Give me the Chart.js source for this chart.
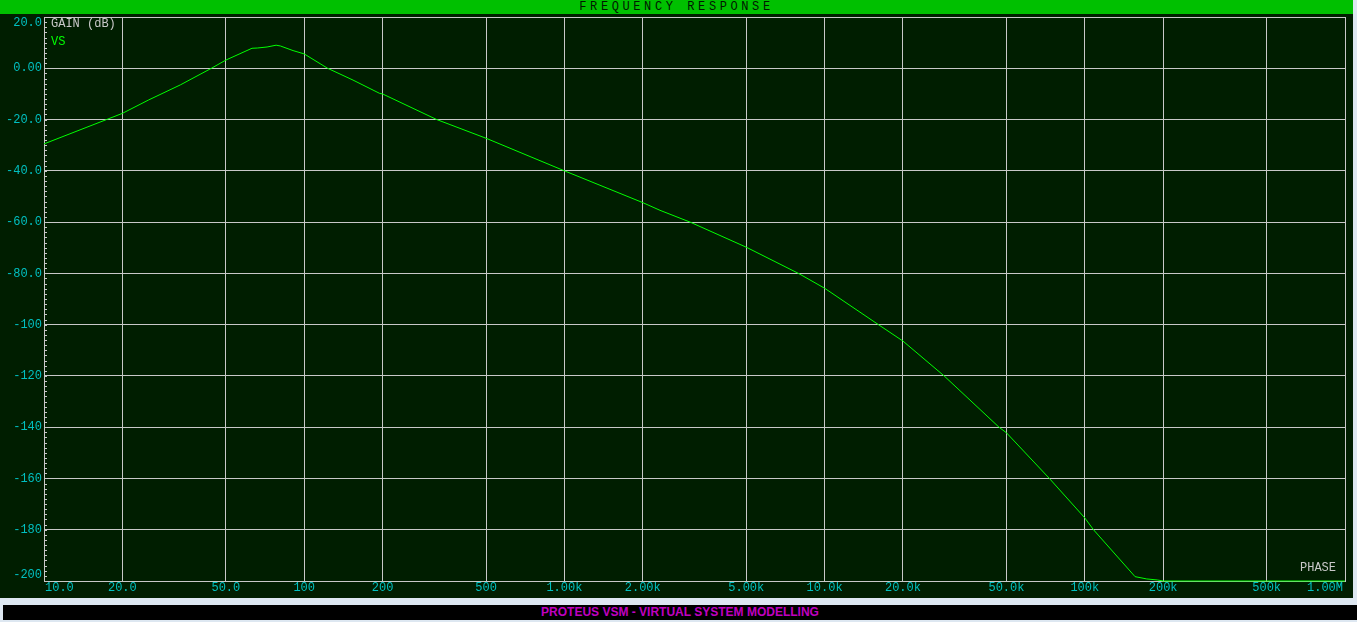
<!DOCTYPE html>
<html>
<head>
<meta charset="utf-8">
<title>Frequency Response</title>
<script src="https://cdn.jsdelivr.net/npm/chart.js@4"></script>
<style>
    html, body { margin: 0; padding: 0; }
    body { width: 1357px; height: 622px; background: #dde7f1; position: relative; overflow: hidden; }
    #panel { position: absolute; left: 0; top: 0; width: 1353px; height: 598px; background: #001e00; }
    #titlebar {
        position: absolute; left: 0; top: 0; width: 1353px; height: 14px;
        background: #00c000; color: #001800; text-align: center;
        font: 12px "Liberation Mono", monospace; line-height: 14px; letter-spacing: 3.6px;
    }
    #chart { position: absolute; left: 0; top: 14px; }
    #footer {
        position: absolute; left: 3px; top: 605px; width: 1354px; height: 15px;
        background: #000; color: #c000c0; text-align: center;
        font: bold 12px "Liberation Sans", Arial, sans-serif; line-height: 15px;
    }
</style>
</head>
<body>
<div id="panel"></div>
<div id="titlebar">FREQUENCY RESPONSE</div>
<canvas id="chart" width="1353" height="584"></canvas>
<div id="footer">PROTEUS VSM - VIRTUAL SYSTEM MODELLING</div>

<script>
// --- Data ---

// frequency (Hz) of each sample of the VS trace
const frequencies = [
    10, 17.4, 20, 25.2, 33.4, 44, 50, 63, 66, 72, 78, 81, 90.6, 100, 123, 154, 195, 200,
    323, 500, 1000, 2000, 2330, 3040, 5000, 7930, 10000, 16100, 20000, 28800, 46800,
    50000, 73100, 100000, 108000, 156000, 173000, 190000, 200000, 500000, 1000000
];

// gain (dB) of the VS trace at each frequency
const gainDb = [
    -29.5, -20, -17.6, -12.4, -6.5, 0, 3.2, 7.8, 7.9, 8.3, 9.0, 8.7, 6.9, 5.6, 0, -4.6, -9.8, -10.0,
    -20, -27.3, -40, -52.4, -55.4, -60, -69.8, -80, -85.8, -100, -106.4, -120, -140,
    -142.2, -160, -175.4, -180, -198.3, -199.2, -199.6, -200, -200, -200
];

// axis ticks
const xTickValues = [10, 20, 50, 100, 200, 500, 1e3, 2e3, 5e3, 1e4, 2e4, 5e4, 1e5, 2e5, 5e5, 1e6];
const xTickLabels = ['10.0', '20.0', '50.0', '100', '200', '500', '1.00k', '2.00k', '5.00k',
    '10.0k', '20.0k', '50.0k', '100k', '200k', '500k', '1.00M'];
const yTickValues = [20, 0, -20, -40, -60, -80, -100, -120, -140, -160, -180, -200];
const yTickLabels = ['20.0', '0.00', '-20.0', '-40.0', '-60.0', '-80.0', '-100', '-120',
    '-140', '-160', '-180', '-200'];

const gridColor = '#c8c8c8';
const labelColor = '#00c0c0';
const traceColor = '#00ff00';
const axisFont = '12px "Liberation Mono", monospace';

// Draws axis labels, minor ticks and the trace captions the way Proteus does.
const proteusLabels = {
    id: 'proteusLabels',
    afterDraw(chart) {
        const { ctx, chartArea, scales } = chart;
        const xs = scales.x, ys = scales.y;
        ctx.save();
        ctx.font = axisFont;
        ctx.textBaseline = 'middle';

        // minor ticks on the left axis, every 2 dB
        ctx.strokeStyle = gridColor;
        ctx.lineWidth = 1;
        ctx.beginPath();
        for (let v = -200; v <= 20; v += 2) {
            const y = Math.round(ys.getPixelForValue(v)) + 0.5;
            ctx.moveTo(chartArea.left, y);
            ctx.lineTo(chartArea.left + 3, y);
        }
        ctx.stroke();

        // y labels
        ctx.fillStyle = labelColor;
        ctx.textAlign = 'right';
        yTickValues.forEach((v, i) => {
            let y = ys.getPixelForValue(v);
            y = Math.min(Math.max(y, chartArea.top + 6), chartArea.bottom - 6);
            ctx.fillText(yTickLabels[i], chartArea.left - 2, y);
        });

        // x labels
        const xLabelY = chartArea.bottom + 7;
        xTickValues.forEach((v, i) => {
            const x = xs.getPixelForValue(v);
            const w = ctx.measureText(xTickLabels[i]).width;
            let left = x - w / 2;
            left = Math.min(Math.max(left, chartArea.left + 1), chartArea.right - 2 - w);
            ctx.textAlign = 'left';
            ctx.fillText(xTickLabels[i], left, xLabelY);
        });

        // captions
        ctx.textAlign = 'left';
        ctx.fillStyle = gridColor;
        ctx.fillText('GAIN (dB)', chartArea.left + 7, chartArea.top + 7);
        ctx.fillStyle = traceColor;
        ctx.fillText(chart.data.datasets[0].label, chartArea.left + 7, chartArea.top + 25);
        ctx.textAlign = 'right';
        ctx.fillStyle = gridColor;
        ctx.fillText('PHASE', chartArea.right - 9, chartArea.bottom - 13);
        ctx.restore();
    }
};

const ctx = document.getElementById('chart').getContext('2d');
const chart = new Chart(ctx, {
    type: 'line',
    data: {
        datasets: [{
            label: 'VS',
            data: frequencies.map((f, i) => ({ x: f, y: gainDb[i] })),
            borderColor: traceColor,
            borderWidth: 1,
            pointRadius: 0,
            tension: 0,
            clip: 4,
        }],
    },
    options: {
        responsive: false,
        animation: false,
        devicePixelRatio: 1,
        layout: {
            padding: { left: 44, right: 8, top: 3, bottom: 17 },
        },
        plugins: {
            legend: { display: false },
            tooltip: { enabled: false },
        },
        scales: {
            x: {
                type: 'logarithmic',
                min: 10,
                max: 1e6,
                afterBuildTicks: (scale) => {
                    scale.ticks = xTickValues.map(v => ({ value: v }));
                },
                ticks: { display: false },
                grid: { color: gridColor, drawTicks: false },
                border: { color: gridColor },
            },
            y: {
                type: 'linear',
                min: -200,
                max: 20,
                afterBuildTicks: (scale) => {
                    scale.ticks = yTickValues.map(v => ({ value: v }));
                },
                ticks: { display: false },
                grid: { color: gridColor, drawTicks: false },
                border: { color: gridColor },
            },
        },
    },
    plugins: [proteusLabels],
});
</script>
</body>
</html>
